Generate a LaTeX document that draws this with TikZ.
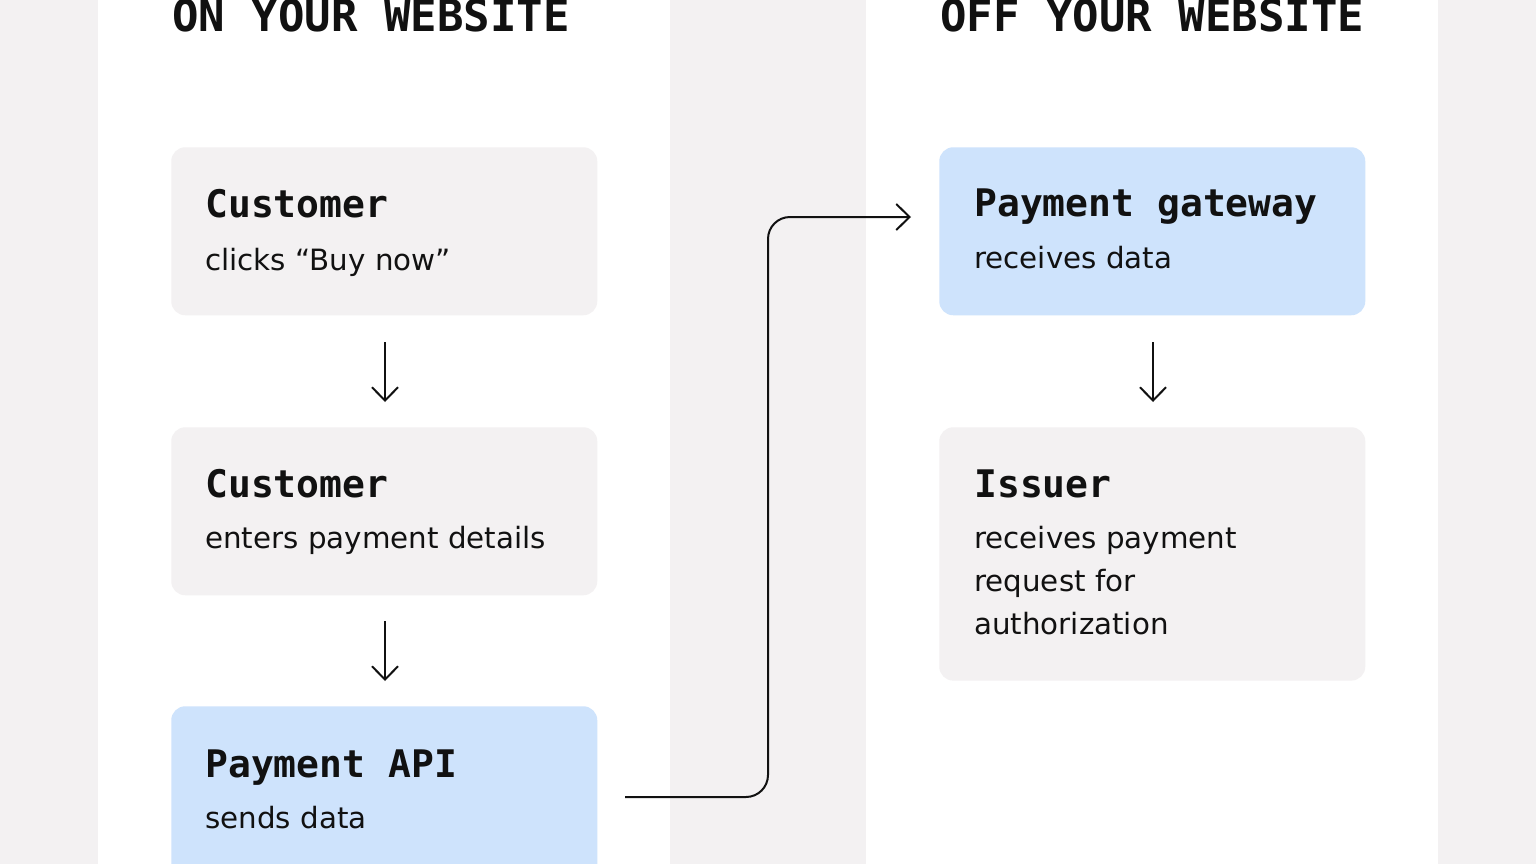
\documentclass[tikz,border=0pt]{standalone}
\usepackage{fontspec}
\setmainfont{DejaVu Sans}
\newfontfamily\monofont{DejaVu Sans Mono}
\usetikzlibrary{arrows.meta}
\definecolor{bggray}{HTML}{F3F1F2}
\definecolor{boxgray}{HTML}{F3F1F2}
\definecolor{boxblue}{HTML}{CEE3FC}
\definecolor{ink}{HTML}{111111}
\tikzset{
  px/.style={x=0.75pt,y=-0.75pt},
  card/.style={rounded corners=10.5pt,draw=none,minimum width=319.5pt,anchor=north west,inner sep=0pt},
  graycard/.style={card,fill=boxgray},
  bluecard/.style={card,fill=boxblue},
  header/.style={anchor=base west,inner sep=0pt,text=ink,font=\monofont\bfseries\fontsize{33}{33}\selectfont},
  cardtitle/.style={anchor=base west,inner sep=0pt,text=ink,font=\monofont\bfseries\fontsize{28.5}{28.5}\selectfont},
  cardtext/.style={anchor=base west,inner sep=0pt,text=ink,align=left,font=\fontsize{22}{32}\selectfont},
  flow/.style={draw=ink,line width=1.5pt,-{Straight Barb[length=10pt,width=19.5pt,line width=1.5pt]}},
}
\begin{document}
\begin{tikzpicture}[px]
\useasboundingbox (0,0) rectangle (1536,864);
\clip (0,0) rectangle (1536,864);
\fill[bggray] (0,0) rectangle (1536,864);
\fill[white] (98,-5) rectangle (670,870);
\fill[white] (866,-5) rectangle (1438,870);

\node[header] (hl) at (172,31) {ON YOUR WEBSITE};
\node[header] (hr) at (940,31) {OFF YOUR WEBSITE};

\node[graycard,minimum height=126pt] (b1) at (171,147) {};
\node[graycard,minimum height=126pt] (b2) at (171,427) {};
\node[bluecard,minimum height=136.5pt] (b3) at (171,706) {};
\node[bluecard,minimum height=126pt] (g) at (939,147) {};
\node[graycard,minimum height=190pt] (iss) at (939,427) {};

\node[cardtitle] (t1) at (205,217) {Customer};
\node[cardtext] (s1) at (205,270) {clicks “Buy now”};
\node[cardtitle] (t2) at (205,497) {Customer};
\node[cardtext] (s2) at (205,548) {enters payment details};
\node[cardtitle] (t3) at (205,777) {Payment API};
\node[cardtext] (s3) at (205,828) {sends data};
\node[cardtitle] (tg) at (974,216) {Payment gateway};
\node[cardtext] (sg) at (974,268) {receives data};
\node[cardtitle] (ti) at (974,497) {Issuer};
\node[cardtext] (si) at (974,634) {receives payment\\request for\\authorization};

\coordinate (a1s) at (385,342);
\coordinate (a1e) at (385,402);
\coordinate (a2s) at (385,621);
\coordinate (a2e) at (385,681);
\coordinate (a3s) at (1153,342);
\coordinate (a3e) at (1153,402);
\draw[flow] (a1s) -- (a1e);
\draw[flow] (a2s) -- (a2e);
\draw[flow] (a3s) -- (a3e);

\coordinate (cs) at (625,797);
\coordinate (ce) at (911,217);
\draw[flow,rounded corners=16.5pt] (cs) -- (768,797) -- (768,217) -- (ce);
\end{tikzpicture}
\end{document}
